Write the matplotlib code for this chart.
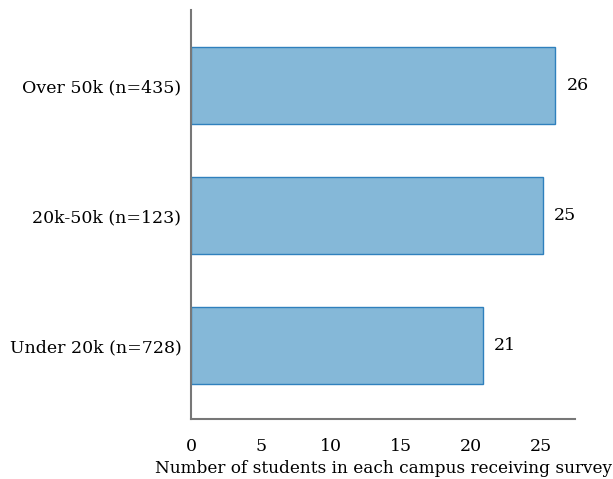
import numpy as np
import matplotlib.pyplot as plt

# data
categories = ['Under 20k (n=728)', '20k-50k (n=123)', 'Over 50k (n=435)']
values = [20.8, 25.1, 26.0]
value_labels = ['21', '25', '26']
xticks = [0, 5, 10, 15, 20, 25]

plt.rcParams['font.family'] = ['DejaVu Serif']

fig = plt.figure(figsize=(6.13, 4.79), dpi=100)
ax = fig.add_axes([0.3116, 0.1253, 0.6264, 0.8537])

y = np.arange(len(categories))
bars = ax.barh(y, values, height=0.59, color='#85b8d8', edgecolor='#2f80bd', linewidth=1.0)
ax.bar_label(bars, labels=value_labels, padding=8, fontsize=12.5)

ax.set_yticks(y)
ax.set_yticklabels(categories, fontsize=12.5)
ax.set_xticks(xticks)
ax.set_xticklabels([str(t) for t in xticks], fontsize=12.5)
ax.set_xlim(0, 27.4)
ax.set_ylim(-0.565, 2.58)
ax.tick_params(axis='both', length=0)
ax.tick_params(axis='x', pad=14)
ax.tick_params(axis='y', pad=7)
ax.set_xlabel('Number of students in each campus receiving survey', fontsize=12.2, labelpad=3)

for s in ['top', 'right']:
    ax.spines[s].set_visible(False)
for s in ['left', 'bottom']:
    ax.spines[s].set_color('#777777')
    ax.spines[s].set_linewidth(1.5)

fig.savefig('out.png', dpi=100)
